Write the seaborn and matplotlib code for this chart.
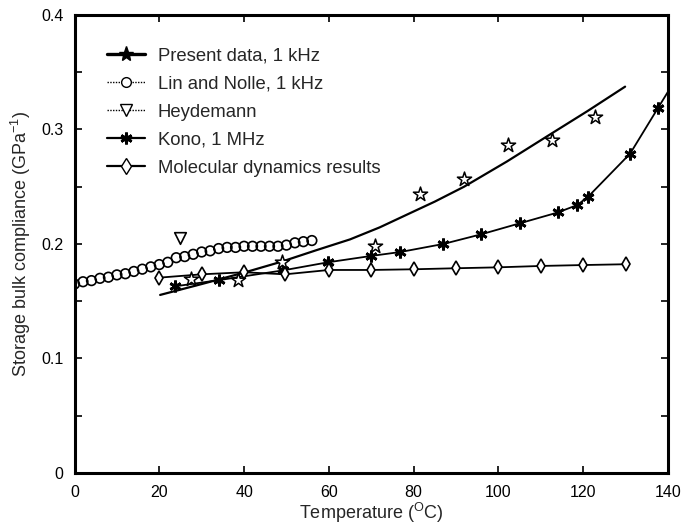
import numpy as np
import pandas as pd
import matplotlib
matplotlib.use("Agg")
import matplotlib.pyplot as plt
from matplotlib.lines import Line2D
from matplotlib.ticker import MultipleLocator
import seaborn as sns

# ---- data ----
present_T = [27.4, 38.6, 48.9, 70.9, 81.5, 91.9, 102.2, 112.6, 122.8]
present_B = [0.169, 0.1685, 0.1846, 0.198, 0.244, 0.2565, 0.2865, 0.291, 0.311]

fit_T = [20.2, 30, 40, 48.9, 57, 65, 72, 79.1, 85, 91.9, 102, 112.6, 121, 129.9]
fit_B = [0.1555, 0.165, 0.175, 0.1846, 0.1945, 0.204, 0.2145, 0.2268, 0.237, 0.250,
         0.272, 0.2966, 0.316, 0.3374]

lin_T = [0, 2, 4, 6, 8, 10, 12, 14, 16, 18, 20, 22, 24, 26, 28, 30, 32, 34, 36, 38,
         40, 42, 44, 46, 48, 50, 52, 54, 56]
lin_B = [0.165, 0.167, 0.168, 0.170, 0.171, 0.173, 0.174, 0.176, 0.178, 0.180, 0.182,
         0.184, 0.188, 0.189, 0.191, 0.193, 0.194, 0.196, 0.197, 0.197, 0.198, 0.198,
         0.198, 0.198, 0.198, 0.199, 0.201, 0.202, 0.203]

hey_T = [24.9]
hey_B = [0.205]

kono_T = [23.7, 34.2, 49.3, 59.8, 69.9, 76.9, 87.0, 96.0, 105.0, 114.0, 118.6, 121.1,
          131.1, 137.7, 143.0]
kono_B = [0.163, 0.1685, 0.177, 0.184, 0.1895, 0.193, 0.200, 0.2085, 0.218, 0.2275,
          0.234, 0.241, 0.279, 0.319, 0.351]

md_T = [20, 30, 40, 49.7, 60, 70, 80, 90, 100, 110, 120, 130]
md_B = [0.1706, 0.1735, 0.1753, 0.1735, 0.1773, 0.1773, 0.1779, 0.1788, 0.1796,
        0.1808, 0.1816, 0.1823]

labels = ["Present data, 1 kHz", "Lin and Nolle, 1 kHz", "Heydemann",
          "Kono, 1 MHz", "Molecular dynamics results"]
x_ticks = [0, 20, 40, 60, 80, 100, 120, 140]
y_ticks = [0, 0.1, 0.2, 0.3, 0.4]
y_ticklabels = ["0", "0.1", "0.2", "0.3", "0.4"]

# ---- style ----
sns.set_style("ticks")
plt.rcParams["font.family"] = ["Liberation Sans", "DejaVu Sans"]
plt.rcParams["mathtext.fontset"] = "custom"
plt.rcParams["mathtext.rm"] = "Liberation Sans"
plt.rcParams["mathtext.it"] = "Liberation Sans"

fig = plt.figure(figsize=(6.9, 5.29), dpi=100)
ax = fig.add_axes([0.108, 0.1059, 0.860, 0.8658])

asterisk = (6, 2, 0)

# fitted curve for present data
sns.lineplot(x=fit_T, y=fit_B, ax=ax, color="black", lw=1.6, sort=False,
             estimator=None)
# present data (open stars)
sns.scatterplot(x=present_T, y=present_B, ax=ax, marker="*", s=115,
                facecolor="white", edgecolor="black", linewidth=1.1, zorder=5)
# Lin and Nolle (open circles)
sns.scatterplot(x=lin_T, y=lin_B, ax=ax, marker="o", s=48,
                facecolor="none", edgecolor="black", linewidth=1.2, zorder=4)
# Heydemann
sns.scatterplot(x=hey_T, y=hey_B, ax=ax, marker="v", s=70,
                facecolor="white", edgecolor="black", linewidth=1.2, zorder=4)
# Kono
sns.lineplot(x=kono_T, y=kono_B, ax=ax, color="black", lw=1.3, sort=False,
             estimator=None, marker=asterisk, markersize=8.5, markeredgewidth=2,
             markeredgecolor="black", zorder=4)
# Molecular dynamics
sns.lineplot(x=md_T, y=md_B, ax=ax, color="black", lw=1.3, sort=False,
             estimator=None, marker="d", markersize=7.5, markerfacecolor="white",
             markeredgecolor="black", markeredgewidth=1.2, zorder=4)

ax.set_xlim(0, 140)
ax.set_ylim(0, 0.4)
ax.set_xticks(x_ticks)
ax.set_yticks(y_ticks)
ax.set_yticklabels(y_ticklabels)
ax.yaxis.set_minor_locator(MultipleLocator(0.05))
ax.tick_params(which="both", direction="in", top=True, right=True,
               labelsize=11.5, width=1.2, colors="black")
ax.tick_params(which="major", length=5)
ax.tick_params(which="minor", length=5)
ax.tick_params(axis="x", pad=9)
ax.tick_params(axis="y", pad=8)
for sp in ax.spines.values():
    sp.set_linewidth(2.2)
    sp.set_color("black")

ax.set_xlabel("Temperature ($^{\\mathrm{O}}$C)", fontsize=13, labelpad=0)
ax.set_ylabel("Storage bulk compliance (GPa$^{\\mathrm{-1}}$)", fontsize=13,
              labelpad=6)

handles = [
    Line2D([], [], color="black", lw=2.4, marker="*", markersize=11,
           markerfacecolor="black"),
    Line2D([], [], color="black", lw=1.0, ls=(0, (1, 1)), marker="o", markersize=7,
           markerfacecolor="white"),
    Line2D([], [], color="black", lw=1.0, ls=(0, (1, 1)), marker="v", markersize=8,
           markerfacecolor="white"),
    Line2D([], [], color="black", lw=1.6, marker=asterisk, markersize=8.5,
           markeredgewidth=2),
    Line2D([], [], color="black", lw=1.6, marker="d", markersize=8,
           markerfacecolor="white"),
]
ax.legend(handles, labels, loc="upper left", bbox_to_anchor=(0.027, 0.965),
          frameon=False, fontsize=13.3, handlelength=2.05, handletextpad=0.7,
          labelspacing=0.6)

fig.savefig("out.png", dpi=100)
